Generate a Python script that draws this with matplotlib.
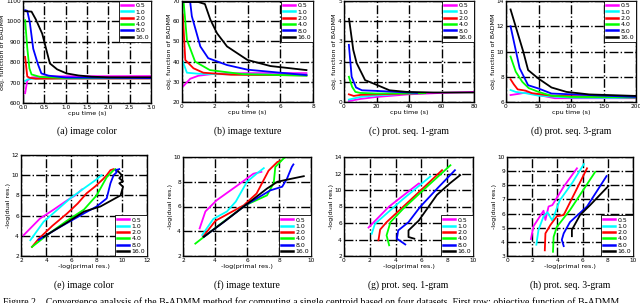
import matplotlib
matplotlib.use("Agg")
import matplotlib.pyplot as plt

W, H = 640, 303

rhos = ['0.5', '1.0', '2.0', '4.0', '8.0', '16.0']
colors = ['magenta', 'cyan', 'red', 'lime', 'blue', 'black']

# ---- top row: objective vs cpu time ----
color_x = [
    [0.05, 0.1, 0.2, 0.5, 1.0, 3.0],
    [0.05, 0.1, 0.2, 0.5, 1.0, 3.0],
    [0.05, 0.1, 0.15, 0.3, 1.0, 3.0],
    [0.05, 0.1, 0.15, 0.2, 0.4, 1.0, 3.0],
    [0.05, 0.1, 0.16, 0.24, 0.35, 0.43, 0.6, 1.0, 3.0],
    [0.05, 0.2, 0.3, 0.45, 0.63, 0.8, 1.02, 1.3, 1.6, 2.0, 3.0],
]
color_y = [
    [648, 710, 725, 730, 731, 732],
    [708, 715, 719, 720, 720, 721],
    [826, 730, 724, 719, 720, 720],
    [1006, 870, 770, 740, 728, 722, 722],
    [1055, 1052, 995, 866, 790, 745, 734, 725, 722],
    [1050, 1048, 1010, 940, 794, 765, 745, 735, 729, 726, 726],
]

texture_x = [
    [0.1, 0.5, 1.0, 2.0, 4.0, 7.6],
    [0.05, 0.3, 1.0, 2.0, 4.0, 7.6],
    [0.05, 0.2, 0.7, 1.3, 3.0, 7.6],
    [0.1, 0.3, 0.8, 1.7, 3.7, 7.6],
    [0.1, 0.5, 0.6, 1.12, 1.6, 2.75, 4.0, 7.6],
    [0.1, 1.0, 1.4, 1.73, 2.14, 2.75, 4.0, 5.4, 7.6],
]
texture_y = [
    [28.0, 31.5, 33.0, 34.0, 34.3, 34.3],
    [40.0, 34.5, 34.0, 33.8, 33.6, 33.5],
    [63.3, 40.8, 36.7, 34.5, 33.5, 33.2],
    [69.5, 50.8, 40.0, 35.8, 33.8, 33.0],
    [69.5, 69.5, 62.5, 47.5, 41.7, 38.3, 36.0, 33.3],
    [69.5, 69.5, 68.5, 60.8, 54.0, 47.5, 40.8, 37.8, 35.8],
]

prot1_x = [
    [3, 10, 20, 40, 60, 80],
    [3, 10, 20, 40, 50],
    [3, 6, 10, 20, 50],
    [3, 5, 7, 10, 20, 50],
    [3, 4.7, 7.4, 11, 20, 45],
    [3.1, 5.7, 7.8, 13, 18, 28, 38.5, 55, 80],
]
prot1_y = [
    [0.05, 0.15, 0.25, 0.38, 0.45, 0.5],
    [0.12, 0.25, 0.33, 0.42, 0.44],
    [0.38, 0.3, 0.35, 0.38, 0.44],
    [1.25, 0.75, 0.5, 0.45, 0.42, 0.44],
    [2.83, 1.25, 0.72, 0.58, 0.55, 0.45],
    [4.12, 2.58, 1.92, 1.08, 0.92, 0.58, 0.5, 0.47, 0.47],
]

prot3_x = [
    [7, 20, 30, 50, 75, 100, 200],
    [7, 15, 30, 50, 100, 200],
    [7, 12, 18, 30, 40, 70, 200],
    [7, 15, 25, 35, 50, 70, 100, 200],
    [7, 21, 34, 50, 70, 200],
    [7, 26.5, 34, 49.5, 70, 93, 128, 200],
]
prot3_y = [
    [6.55, 6.65, 6.75, 6.55, 6.3, 6.3, 6.3],
    [6.95, 6.8, 6.7, 6.5, 6.35, 6.32],
    [7.8, 7.4, 7.0, 6.9, 6.7, 6.5, 6.35],
    [9.6, 8.4, 7.6, 7.1, 6.8, 6.5, 6.4, 6.38],
    [12.0, 8.67, 7.33, 7.07, 6.67, 6.4],
    [13.33, 10.0, 8.53, 7.87, 7.15, 6.8, 6.6, 6.48],
]

# ---- bottom row: dual vs primal residual ----
ecolor_x = [
    [2.2, 3.5, 4.6, 5.65, 6.3, 6.85],
    [2.74, 3.8, 4.9, 5.9, 7.0, 7.9, 8.4],
    [2.87, 3.4, 4.5, 5.65, 6.5, 7.2, 7.9, 8.5, 8.8, 9.1, 9.35],
    [2.87, 4.2, 5.65, 7.0, 8.0, 8.8, 9.35, 9.5],
    [3.4, 5.0, 6.97, 8.0, 8.8, 9.1, 9.35, 9.6, 9.5, 9.8],
    [3.8, 5.5, 7.0, 8.3, 9.9, 10.1, 9.8, 10.1, 9.8, 10.0, 9.7],
]
ecolor_y = [
    [4.05, 5.7, 6.6, 7.5, 8.0, 8.6],
    [3.56, 5.4, 6.6, 7.7, 8.7, 9.5, 10.0],
    [2.9, 3.7, 5.0, 6.2, 7.2, 8.2, 8.9, 9.6, 10.0, 10.5, 10.6],
    [2.9, 4.2, 5.5, 6.6, 8.0, 9.8, 10.5, 10.6],
    [3.6, 4.8, 6.2, 6.9, 7.7, 9.2, 10.0, 10.3, 10.5, 10.6],
    [3.9, 5.2, 6.4, 6.9, 8.0, 8.85, 9.2, 9.4, 9.7, 10.0, 10.4],
]

etext_x = [
    [3.04, 3.4, 4.1, 5.4, 6.4, 6.9],
    [3.2, 3.9, 4.75, 5.3, 6.0, 6.6, 7.05],
    [3.25, 4.0, 4.1, 5.8, 6.6, 7.35, 7.9, 8.1],
    [2.77, 4.3, 5.9, 7.25, 7.67, 7.77, 8.3, 8.45],
    [3.3, 4.6, 5.9, 7.45, 8.2, 8.5, 8.8, 8.9],
    [3.3, 4.6, 5.9, 7.25, 7.9, 8.8, 9.55],
]
etext_y = [
    [4.23, 5.6, 6.5, 7.7, 8.65, 8.8],
    [3.7, 5.0, 5.6, 6.4, 8.0, 8.65, 9.1],
    [3.55, 4.8, 4.9, 6.1, 7.05, 8.9, 9.6, 9.7],
    [3.0, 4.55, 6.1, 6.9, 7.9, 9.2, 9.9, 10.0],
    [3.55, 4.8, 6.1, 7.3, 7.6, 8.25, 9.2, 9.4],
    [3.55, 4.8, 6.1, 7.45, 8.0, 8.25, 8.45],
]

eprot1_x = [
    [1.9, 3.5, 5.8, 5.9],
    [2.15, 2.4, 4.5, 6.7],
    [2.67, 2.8, 3.3, 5.5, 7.6],
    [3.5, 3.3, 3.6, 4.6, 6.5, 8.25],
    [4.75, 4.1, 4.2, 5.0, 5.9, 7.3, 8.6],
    [5.45, 5.0, 5.0, 5.8, 7.2, 8.2, 9.0],
]
eprot1_y = [
    [5.45, 8.0, 10.8, 10.7],
    [4.7, 5.9, 8.8, 11.65],
    [3.9, 5.2, 6.1, 9.3, 12.4],
    [3.3, 4.5, 6.1, 7.75, 10.5, 13.0],
    [3.4, 4.1, 5.1, 6.1, 7.95, 10.3, 12.4],
    [4.1, 4.3, 5.1, 6.3, 9.4, 10.8, 11.8],
]

eprot3_x = [
    [1.9, 2.1, 2.5, 2.9, 3.05, 3.3, 3.6, 4.5, 5.55],
    [2.33, 2.5, 2.9, 3.2, 3.6, 4.0, 4.2, 5.2, 6.1],
    [3.0, 3.05, 3.45, 3.95, 4.5, 5.4, 6.35],
    [3.65, 3.7, 3.95, 5.0, 6.0, 7.0],
    [4.5, 4.35, 4.5, 5.0, 6.35, 7.9],
    [5.15, 5.15, 5.8, 6.6, 8.05],
]
eprot3_y = [
    [4.2, 5.1, 5.65, 6.2, 5.55, 6.5, 6.6, 7.9, 9.2],
    [3.8, 4.85, 5.8, 6.1, 5.5, 6.5, 6.95, 8.2, 9.5],
    [3.4, 4.6, 5.2, 5.8, 5.9, 7.5, 9.2],
    [3.3, 4.35, 5.05, 6.25, 7.6, 8.95],
    [3.7, 4.15, 4.6, 5.4, 6.5, 8.65],
    [4.4, 4.85, 5.9, 6.6, 7.95],
]

top_panels = [
    ("(a) image color", color_x, color_y, (0, 3), (600, 1100), [0, 0.5, 1, 1.5, 2, 2.5, 3], range(600, 1101, 100), (23, 151, 1, 103)),
    ("(b) image texture", texture_x, texture_y, (0, 8), (20, 70), range(0, 9, 2), range(20, 71, 10), (182, 313, 1, 102)),
    ("(c) prot. seq. 1-gram", prot1_x, prot1_y, (0, 80), (0, 5), range(0, 81, 20), range(0, 6), (344, 474, 1, 102)),
    ("(d) prot. seq. 3-gram", prot3_x, prot3_y, (0, 200), (6, 14), range(0, 201, 50), range(6, 15, 2), (506, 636, 1, 102)),
]
bottom_panels = [
    ("(e) image color", ecolor_x, ecolor_y, (2, 12), (2, 12), range(2, 13, 2), range(2, 13, 2), (21, 147, 155, 256)),
    ("(f) image texture", etext_x, etext_y, (2, 10), (2, 10), range(2, 11, 2), range(2, 11, 2), (183, 311, 157, 256)),
    ("(g) prot. seq. 1-gram", eprot1_x, eprot1_y, (0, 10), (2, 14), range(0, 11, 2), range(2, 15, 2), (344, 473, 157, 256)),
    ("(h) prot. seq. 3-gram", eprot3_x, eprot3_y, (0, 10), (3, 10), range(0, 11, 2), range(3, 11), (507, 633, 157, 256)),
]

fig = plt.figure(figsize=(W / 100, H / 100), dpi=100)


def draw(panel, xlabel, ylabel, legend_loc, caption_y):
    title, xs, ys, xlim, ylim, xt, yt, box = panel
    x0, x1, y0, y1 = box
    ax = fig.add_axes([x0 / W, 1 - y1 / H, (x1 - x0) / W, (y1 - y0) / H])
    for x, y, c, lab in zip(xs, ys, colors, rhos):
        ax.plot(x, y, color=c, lw=1.3, label=lab)
    ax.set_xlim(xlim)
    ax.set_ylim(ylim)
    ax.set_xticks(list(xt))
    ax.set_yticks(list(yt))
    ax.grid(True, color='black', linestyle='-.', linewidth=1.0)
    ax.tick_params(labelsize=4.2, direction='in', length=2, width=0.5, pad=1.5)
    for s in ax.spines.values():
        s.set_linewidth(1.0)
    ax.set_xlabel(xlabel, fontsize=4.6, labelpad=1)
    ax.set_ylabel(ylabel, fontsize=4.6, labelpad=0.5)
    leg = ax.legend(loc=legend_loc, fontsize=4.5, frameon=True, fancybox=False,
                    edgecolor='black', framealpha=1, handlelength=2.0,
                    handletextpad=0.4, borderpad=0.3, labelspacing=0.15,
                    borderaxespad=0.0)
    leg.get_frame().set_linewidth(0.6)
    for line in leg.get_lines():
        line.set_linewidth(1.8)
    fig.text((x0 + x1) / 2 / W, 1 - caption_y / H, title, ha='center', va='center',
             fontsize=7, family='Liberation Serif')


for p in top_panels:
    draw(p, 'cpu time (s)', 'obj. function of BADMM', 'upper right', 131)
for p in bottom_panels:
    draw(p, '-log(primal res.)', '-log(dual res.)', 'lower right', 285)

fig.text(3 / W, 1 - 297 / H,
         "Figure 2.   Convergence analysis of the B-ADMM method for computing a single centroid "
         "based on four datasets. First row: objective function of B-ADMM",
         ha='left', va='top', fontsize=7, family='Liberation Serif')

fig.savefig('out.png', dpi=100)
